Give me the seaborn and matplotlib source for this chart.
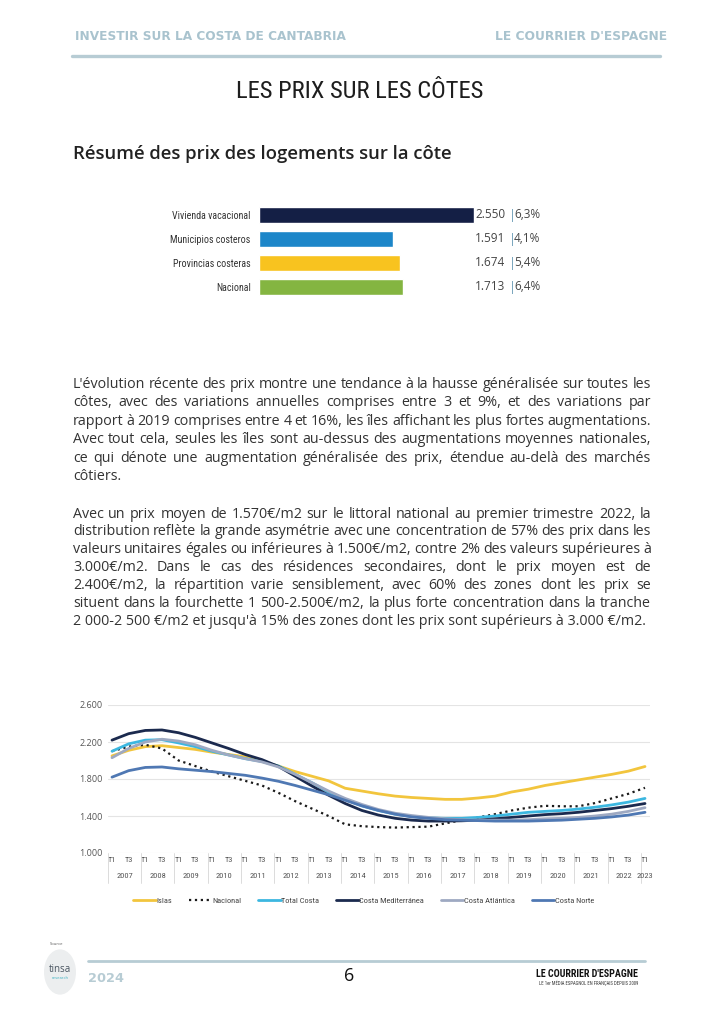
import os
import numpy as np
import pandas as pd
import matplotlib.pyplot as plt
import seaborn as sns
from matplotlib import font_manager as fm
from matplotlib.patches import Circle
from matplotlib.lines import Line2D
from matplotlib.ticker import FuncFormatter
from matplotlib.transforms import blended_transform_factory

W, H = 724, 1024

# --- summary bars ---
bar_labels = ['Vivienda vacacional', 'Municipios costeros', 'Provincias costeras', 'Nacional']
bar_values = [2550, 1591, 1674, 1713]
bar_changes = ['6,3%', '4,1%', '5,4%', '6,4%']
bar_colors = ['#141f45', '#1c86c9', '#f8c31f', '#84b541']

# --- price evolution, half-yearly (T1 / T3), 2007 T1 -> 2023 T1 ---
periods = ['T1', 'T3'] * 16 + ['T1']
years = [str(y) for y in range(2007, 2024)]
islas = [2050, 2110, 2150, 2160, 2140, 2120, 2090, 2065, 2040, 1990, 1940, 1880, 1830,
         1780, 1700, 1670, 1640, 1615, 1600, 1590, 1580, 1580, 1595, 1615, 1660, 1690,
         1730, 1760, 1790, 1820, 1850, 1885, 1935]
nacional = [2100, 2150, 2170, 2130, 2000, 1940, 1880, 1830, 1780, 1730, 1650, 1560, 1480,
            1400, 1310, 1290, 1280, 1275, 1280, 1285, 1320, 1355, 1385, 1420, 1460, 1490,
            1510, 1505, 1505, 1540, 1590, 1640, 1705]
total_costa = [2100, 2180, 2220, 2225, 2190, 2150, 2100, 2060, 2020, 1990, 1940, 1850, 1760,
               1660, 1580, 1510, 1460, 1420, 1395, 1380, 1375, 1375, 1385, 1400, 1420, 1440,
               1450, 1460, 1475, 1495, 1520, 1550, 1590]
costa_med = [2220, 2290, 2325, 2330, 2300, 2250, 2190, 2130, 2065, 2010, 1935, 1830, 1725,
             1625, 1535, 1460, 1410, 1375, 1355, 1345, 1345, 1348, 1355, 1370, 1385, 1400,
             1415, 1425, 1440, 1460, 1480, 1505, 1535]
costa_atl = [2030, 2130, 2200, 2230, 2210, 2170, 2110, 2060, 2020, 1985, 1930, 1850, 1760,
             1670, 1590, 1525, 1470, 1430, 1405, 1385, 1370, 1360, 1355, 1355, 1355, 1360,
             1370, 1375, 1385, 1400, 1420, 1450, 1490]
costa_norte = [1820, 1890, 1925, 1930, 1910, 1895, 1880, 1860, 1840, 1810, 1775, 1730, 1680,
               1630, 1570, 1510, 1460, 1420, 1390, 1375, 1360, 1355, 1350, 1345, 1345, 1345,
               1350, 1355, 1365, 1375, 1390, 1410, 1440]

para1 = [
    "L'évolution récente des prix montre une tendance à la hausse généralisée sur toutes les",
    "côtes, avec des variations annuelles comprises entre 3 et 9%, et des variations par",
    "rapport à 2019 comprises entre 4 et 16%, les îles affichant les plus fortes augmentations.",
    "Avec tout cela, seules les îles sont au-dessus des augmentations moyennes nationales,",
    "ce qui dénote une augmentation généralisée des prix, étendue au-delà des marchés",
    "côtiers.",
]
para2 = [
    "Avec un prix moyen de 1.570€/m2 sur le littoral national au premier trimestre 2022, la",
    "distribution reflète la grande asymétrie avec une concentration de 57% des prix dans les",
    "valeurs unitaires égales ou inférieures à 1.500€/m2, contre 2% des valeurs supérieures à",
    "3.000€/m2. Dans le cas des résidences secondaires, dont le prix moyen est de",
    "2.400€/m2, la répartition varie sensiblement, avec 60% des zones dont les prix se",
    "situent dans la fourchette 1 500-2.500€/m2, la plus forte concentration dans la tranche",
    "2 000-2 500 €/m2 et jusqu'à 15% des zones dont les prix sont supérieurs à 3.000 €/m2.",
]

sns.set_theme(style='white')
plt.rcParams['font.family'] = ['Open Sans', 'DejaVu Sans']


def narrow_font(bold=False):
    # look for any condensed / narrow face that happens to be installed
    skip = ('light', 'thin', 'black', 'medium', 'semibold', 'extrabold', 'italic', 'oblique')
    prefs = ('robotocondensed', 'liberationsansnarrow', 'opensanscondensed',
             'notosanscondensed', 'dejavusanscondensed', 'condensed', 'narrow')
    files = []
    for f in fm.fontManager.ttflist:
        base = os.path.basename(f.fname).lower().replace('-', '').replace('_', '')
        if any(s in base for s in skip):
            continue
        if ('bold' in base) != bold:
            continue
        files.append((base, f.fname))
    for key in prefs:
        hits = sorted(fn for b, fn in files if key in b)
        if hits:
            return fm.FontProperties(fname=hits[0])
    return fm.FontProperties(family='DejaVu Sans', weight='bold' if bold else 'normal')


NARROW = narrow_font()
NARROW_B = narrow_font(bold=True)


def sized(fp, size):
    p = fp.copy()
    p.set_size(size)
    return p


def fx(x):
    return x / W


def fy(y):
    return 1 - y / H


def px_axes(fig, left, top, right, bottom):
    return fig.add_axes([left / W, 1 - bottom / H, (right - left) / W, (bottom - top) / H])


fig = plt.figure(figsize=(W / 100, H / 100), dpi=100)
fig.patch.set_facecolor('white')
renderer = fig.canvas.get_renderer()


def fit_width(t, target):
    w = t.get_window_extent(renderer).width
    t.set_fontsize(t.get_fontsize() * target / w)
    return t


# header
head_col = '#a9c3ce'
fit_width(fig.text(fx(75), fy(37), 'INVESTIR SUR LA COSTA DE CANTABRIA', fontsize=8,
                   fontweight='bold', color=head_col, va='center', family=['DejaVu Sans']), 271)
fit_width(fig.text(fx(667), fy(37), "LE COURRIER D'ESPAGNE", fontsize=8, fontweight='bold',
                   color=head_col, va='center', ha='right', family=['DejaVu Sans']), 172)
fig.add_artist(Line2D([fx(72), fx(660)], [fy(56), fy(56)], color='#b7ccd4', lw=2.4))

fit_width(fig.text(fx(360), fy(91), 'LES PRIX SUR LES CÔTES', fontsize=27, color='#1e1e1e',
                   ha='center', va='center', fontproperties=NARROW), 247)
fit_width(fig.text(fx(73), fy(154), 'Résumé des prix des logements sur la côte', fontsize=11,
                   fontweight='semibold', color='#222222', va='center'), 377)

# bar chart
axb = px_axes(fig, 259, 203, 259 + 220, 299)
sns.barplot(x=bar_values, y=bar_labels, hue=bar_labels, palette=bar_colors, orient='h',
            width=0.66, legend=False, ax=axb, saturation=1)
axb.set_xlim(0, 220 / 0.0842)
axb.set_xticks([])
axb.set_xlabel('')
axb.set_ylabel('')
for s in axb.spines.values():
    s.set_visible(False)
axb.tick_params(axis='y', length=0, pad=6, labelcolor='#333333')
for lab in axb.get_yticklabels():
    lab.set_fontproperties(sized(NARROW, 7.2))
tr = blended_transform_factory(fig.transFigure, axb.transData)
for i, (v, c) in enumerate(zip(bar_values, bar_changes)):
    axb.text(fx(475), i, f'{v:,}'.replace(',', '.'), transform=tr, fontsize=8.5,
             color='#444444', va='center')
    axb.text(fx(509), i, '|', transform=tr, fontsize=9, color='#6a9bb5', va='center')
    axb.text(fx(514), i, c, transform=tr, fontsize=8.5, color='#444444', va='center')


# body text, justified
def justified(lines, x0, x1, y0, dy, **kw):
    for i, line in enumerate(lines):
        y = fy(y0 + i * dy)
        if i == len(lines) - 1:
            fig.text(fx(x0), y, line, va='center', **kw)
            continue
        words = line.split(' ')
        arts = [fig.text(0, y, w, va='center', **kw) for w in words]
        widths = [a.get_window_extent(renderer).width for a in arts]
        gap = ((x1 - x0) - sum(widths)) / (len(words) - 1)
        x = x0
        for a, wd in zip(arts, widths):
            a.set_x(fx(x))
            x += wd + gap


probe = fig.text(0, 0, para2[-1], fontsize=10)
body_size = 10 * 575 / probe.get_window_extent(renderer).width
probe.remove()
txt_kw = dict(fontsize=body_size, color='#333333')
justified(para1, 73, 651, 384, 18.6, **txt_kw)
justified(para2, 73, 651, 514, 17.9, **txt_kw)

# line chart
axl = px_axes(fig, 108, 705, 650, 853)
xs = np.arange(len(periods))
series = [
    ('Islas', islas, '#f2c53d', '-', 2.0),
    ('Nacional', nacional, '#1a1a1a', ':', 1.6),
    ('Total Costa', total_costa, '#3cb7e0', '-', 2.0),
    ('Costa Mediterránea', costa_med, '#1b2a4e', '-', 2.0),
    ('Costa Atlántica', costa_atl, '#9ea9c2', '-', 2.0),
    ('Costa Norte', costa_norte, '#4f78b3', '-', 2.0),
]
for name, vals, col, ls, lw in series:
    sns.lineplot(x=xs, y=vals, color=col, linestyle=ls, lw=lw, label=name, ax=axl)

axl.set_xlim(-0.24, 32.3)
axl.set_ylim(1000, 2600)
axl.set_yticks([1000, 1400, 1800, 2200, 2600])
axl.yaxis.set_major_formatter(FuncFormatter(lambda v, p: f'{int(v):,}'.replace(',', '.')))
axl.grid(axis='y', color='#e4e4e4', lw=0.8)
axl.set_axisbelow(True)
for s in axl.spines.values():
    s.set_visible(False)
axl.set_xticks(xs)
axl.set_xticklabels(periods)
axl.tick_params(axis='x', length=0, pad=3, labelcolor='#555555')
axl.tick_params(axis='y', length=0, pad=4, labelsize=6.5, labelcolor='#555555')
for lab in axl.get_xticklabels():
    lab.set_fontproperties(sized(NARROW, 6))
for lab in axl.get_yticklabels():
    lab.set_fontsize(6.5)

trl = blended_transform_factory(axl.transData, axl.transAxes)
for j, yr in enumerate(years):
    xpos = 2 * j + 0.75 if j < len(years) - 1 else 2 * j
    axl.text(xpos, -0.155, yr, transform=trl, color='#555555', ha='center',
             va='center', fontproperties=sized(NARROW, 6))
for j in range(len(years)):
    axl.add_line(Line2D([2 * j - 0.25] * 2, [0, -0.2], transform=trl, color='#d6d6d6',
                        lw=0.6, clip_on=False))

handles, labels = axl.get_legend_handles_labels()
leg = axl.legend(handles, labels, loc='center', bbox_to_anchor=(0.472, -0.32), ncol=6,
                 frameon=False, prop=sized(NARROW, 6), handlelength=2.7,
                 handletextpad=0.1, columnspacing=2.0)
for t in leg.get_texts():
    t.set_color('#444444')

# footer
fig.text(fx(57), fy(944), 'Source', fontsize=3, color='#555555', ha='center', va='center')
fig.add_artist(Circle((fx(60), fy(972)), 16 / W, transform=fig.transFigure,
                      facecolor='#eceeef', edgecolor='none'))
fig.text(fx(60), fy(969), 'tinsa', fontsize=7, color='#4a5560', ha='center', va='center')
fig.text(fx(60), fy(978), 'research', fontsize=3, color='#3cb0c0', ha='center', va='center')
fig.add_artist(Line2D([fx(88), fx(645)], [fy(961), fy(961)], color='#b7ccd4', lw=2))
fit_width(fig.text(fx(88), fy(979), '2024', fontsize=9, fontweight='bold', color='#b7ccd4',
                   va='center', family=['DejaVu Sans']), 36)
fig.text(fx(349), fy(976), '6', fontsize=13, color='#111111', ha='center', va='center')
fit_width(fig.text(fx(638), fy(974), "LE COURRIER D'ESPAGNE", fontsize=8, color='#111111',
                   ha='right', va='center', fontproperties=NARROW_B), 101)
fit_width(fig.text(fx(638), fy(983), "LE 1er MÉDIA ESPAGNOL EN FRANÇAIS DEPUIS 2009",
                   fontsize=3, color='#333333', ha='right', va='center',
                   fontproperties=NARROW), 100)

fig.savefig('out.png', dpi=100)
plt.close(fig)
